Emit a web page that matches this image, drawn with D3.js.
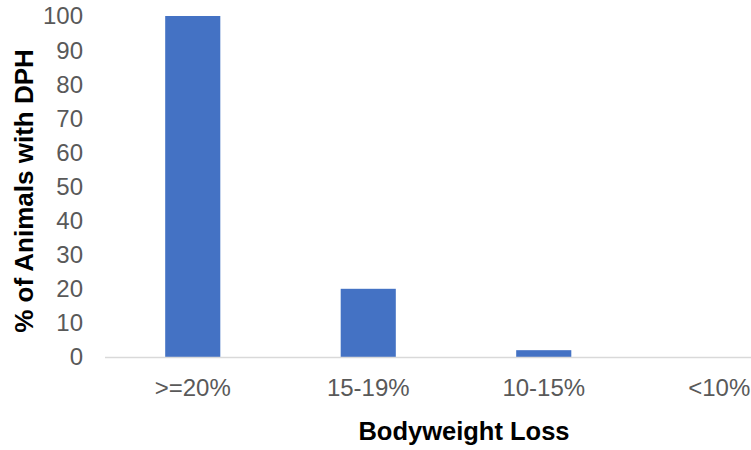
<!DOCTYPE html>
<html>
<head>
<meta charset="utf-8">
<script src="https://cdn.jsdelivr.net/npm/d3@7"></script>
<style>
  body { margin: 0; background: #fff; }
  svg { display: block; font-family: "Liberation Sans", Arial, sans-serif; }
</style>
</head>
<body>
<svg id="chart" width="751" height="450"></svg>
<script>
// data
var categories = [">=20%", "15-19%", "10-15%", "<10%"];
var values = [100, 20, 2, 0];
var yTicks = [0, 10, 20, 30, 40, 50, 60, 70, 80, 90, 100];

var width = 751, height = 450;
var svg = d3.select("#chart");

// plot runs past the right edge like the original crop
var x = d3.scaleBand()
  .domain(categories)
  .range([105, 807])
  .paddingInner(0.686)
  .paddingOuter(0.343);

var y = d3.scaleLinear().domain([0, 100]).range([357, 16]);

// y tick labels (no axis line)
svg.append("g")
  .selectAll("text")
  .data(yTicks)
  .join("text")
  .attr("x", 83)
  .attr("y", d => y(d))
  .attr("dy", "0.35em")
  .attr("text-anchor", "end")
  .attr("fill", "#595959")
  .style("font-size", "24px")
  .text(d => d);

// bars
svg.append("g")
  .selectAll("rect")
  .data(values)
  .join("rect")
  .attr("x", (d, i) => x(categories[i]))
  .attr("y", d => y(d))
  .attr("width", x.bandwidth())
  .attr("height", d => y(0) - y(d))
  .attr("fill", "#4472c4");

// baseline
svg.append("line")
  .attr("x1", 105).attr("x2", 807)
  .attr("y1", y(0) + 0.5).attr("y2", y(0) + 0.5)
  .attr("stroke", "#d9d9d9")
  .attr("stroke-width", 1.5);

// x tick labels
svg.append("g")
  .selectAll("text")
  .data(categories)
  .join("text")
  .attr("x", d => x(d) + x.bandwidth() / 2)
  .attr("y", 396)
  .attr("text-anchor", "middle")
  .attr("fill", "#595959")
  .style("font-size", "24px")
  .text(d => d);

// axis titles
svg.append("text")
  .attr("x", 464)
  .attr("y", 440)
  .attr("text-anchor", "middle")
  .style("font-size", "25.5px")
  .style("font-weight", "bold")
  .attr("fill", "#000")
  .text("Bodyweight Loss");

svg.append("text")
  .attr("transform", "translate(33,191) rotate(-90)")
  .attr("text-anchor", "middle")
  .style("font-size", "26px")
  .style("font-weight", "bold")
  .attr("fill", "#000")
  .text("% of Animals with DPH");
</script>
</body>
</html>
